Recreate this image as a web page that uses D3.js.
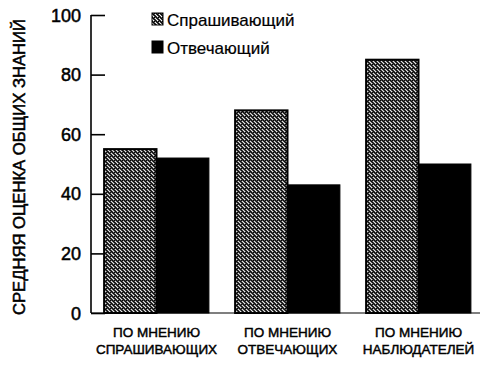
<!DOCTYPE html>
<html><head><meta charset="utf-8">
<script src="https://cdn.jsdelivr.net/npm/d3@7/dist/d3.min.js"></script>
<style>
body{margin:0;background:#fff;}
text{font-family:"Liberation Sans",Arial,sans-serif;fill:#000;}
</style></head>
<body>
<svg id="chart" width="493" height="365"></svg>
<script>
const categories = [["ПО МНЕНИЮ","СПРАШИВАЮЩИХ"],["ПО МНЕНИЮ","ОТВЕЧАЮЩИХ"],["ПО МНЕНИЮ","НАБЛЮДАТЕЛЕЙ"]];
const seriesNames = ["Спрашивающий","Отвечающий"];
const askerValues = [55, 68, 85];
const responderValues = [52, 43, 50];
const yTicks = [0, 20, 40, 60, 80, 100];
const yTitle = "СРЕДНЯЯ ОЦЕНКА ОБЩИХ ЗНАНИЙ";

const svg = d3.select("#chart");
const defs = svg.append("defs");
const pat = defs.append("pattern").attr("id","hatch").attr("patternUnits","userSpaceOnUse")
  .attr("width",4).attr("height",4);
pat.append("rect").attr("width",4).attr("height",4).attr("fill","#fff");
pat.append("path").attr("d","M-1,-1 L5,5 M3,-1 L5,1 M-1,3 L1,5").attr("stroke","#000").attr("stroke-width",1.6);
pat.append("rect").attr("x",2).attr("y",0).attr("width",1).attr("height",1).attr("fill","#000");

const x0 = 91, yBase = 313, yTop = 15;
const y = d3.scaleLinear().domain([0,100]).range([yBase, yTop]);
const xBand = d3.scaleBand().domain(d3.range(categories.length)).range([x0, 484]).paddingInner(0.2).paddingOuter(0.1);
const xSub = d3.scaleBand().domain([0,1]).range([0, xBand.bandwidth()]);

// y axis
const yAxis = d3.axisRight(y).tickValues(yTicks).tickSize(14).tickFormat("");
const ga = svg.append("g").attr("transform",`translate(${x0},0)`).call(yAxis);
ga.select(".domain").attr("stroke","#000").attr("stroke-width",1.6).attr("d",`M0,${yTop}V${yBase}`);
ga.selectAll(".tick line").attr("stroke","#000").attr("stroke-width",1.6);
svg.append("g").selectAll("text").data(yTicks).join("text")
  .attr("x",81).attr("y",d=>y(d)+6.5).attr("text-anchor","end")
  .attr("font-size",18).attr("stroke","#000").attr("stroke-width",0.5).text(d=>d);

// baseline
svg.append("line").attr("x1",x0).attr("x2",480).attr("y1",yBase).attr("y2",yBase).attr("stroke","#000").attr("stroke-width",1.2);

// bars
const groups = svg.append("g").selectAll("g").data(categories.map((c,i)=>i)).join("g")
  .attr("transform",i=>`translate(${xBand(i)},0)`);
groups.append("rect").attr("x",xSub(0)).attr("width",xSub.bandwidth())
  .attr("y",i=>y(askerValues[i])).attr("height",i=>yBase-y(askerValues[i]))
  .attr("fill","url(#hatch)").attr("stroke","#000").attr("stroke-width",2);
groups.append("rect").attr("x",xSub(1)).attr("width",xSub.bandwidth())
  .attr("y",i=>y(responderValues[i])).attr("height",i=>yBase-y(responderValues[i]))
  .attr("fill","#000").attr("stroke","#000").attr("stroke-width",1);

// x labels
const xl = svg.append("g").selectAll("text").data(categories).join("text")
  .attr("x",(d,i)=>xBand(i)+xBand.bandwidth()/2).attr("text-anchor","middle")
  .attr("font-size",13.5).attr("stroke","#000").attr("stroke-width",0.45);
xl.append("tspan").attr("x",(d,i)=>xBand(i)+xBand.bandwidth()/2).attr("y",337).text(d=>d[0]);
xl.append("tspan").attr("x",(d,i)=>xBand(i)+xBand.bandwidth()/2).attr("y",354).text(d=>d[1]);

// y title
svg.append("text").attr("transform","translate(25,167) rotate(-90)").attr("text-anchor","middle")
  .attr("font-size",17).attr("stroke","#000").attr("stroke-width",0.5)
  .attr("textLength",296).attr("lengthAdjust","spacingAndGlyphs").text(yTitle);

// legend
const leg = svg.append("g").selectAll("g").data(seriesNames).join("g")
  .attr("transform",(d,i)=>`translate(152,${13+i*28})`);
leg.append("rect").attr("width",11).attr("height",12)
  .attr("fill",(d,i)=>i===0?"url(#hatch)":"#000").attr("stroke","#000").attr("stroke-width",1);
leg.append("text").attr("x",15).attr("y",12.5).attr("font-size",17).attr("stroke","#000").attr("stroke-width",0.2).text(d=>d);
</script>
</body></html>
